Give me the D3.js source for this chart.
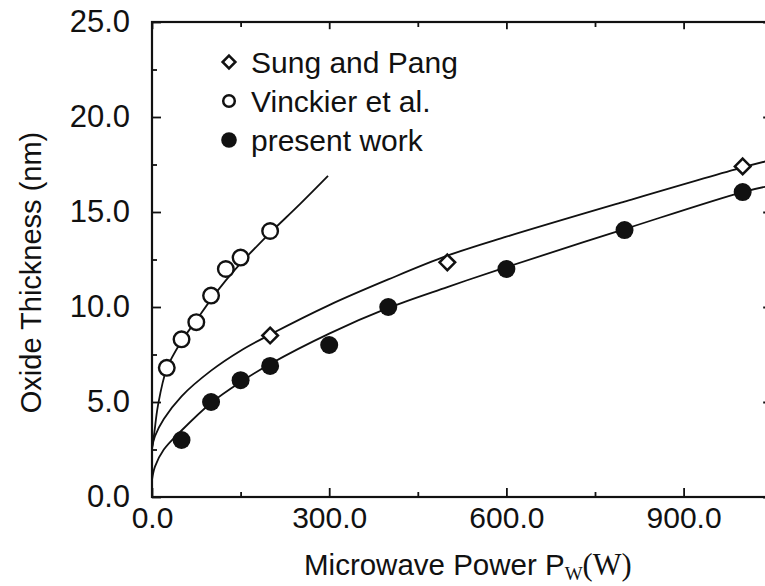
<!DOCTYPE html>
<html>
<head>
<meta charset="utf-8">
<script src="https://cdn.jsdelivr.net/npm/d3@7"></script>
<style>
  html, body { margin: 0; padding: 0; background: #fff; overflow: hidden; }
  svg { display: block; }
  text { font-family: "Liberation Sans", Arial, Helvetica, sans-serif; fill: #111; }
</style>
</head>
<body>
<svg id="chart" width="765" height="586"></svg>
<script>
// ---- data ----
const xMajorTicks = [0, 300, 600, 900];
const xMinorTicks = [150, 450, 750, 1050];
const yMajorTicks = [0, 5, 10, 15, 20, 25];
const yMinorTicks = [2.5, 7.5, 12.5, 17.5, 22.5];

const sungX = [200, 500, 1000];
const sungY = [8.5, 12.35, 17.4];

const vinckierX = [25, 50, 75, 100, 125, 150, 200];
const vinckierY = [6.8, 8.3, 9.2, 10.6, 12.0, 12.6, 14.0];

const presentX = [50, 100, 150, 200, 300, 400, 600, 800, 1000];
const presentY = [3.0, 5.0, 6.15, 6.9, 8.0, 10.0, 12.0, 14.05, 16.05];

// fitted curves
const vinckierFitX = [0, 4, 10, 25, 50, 75, 100, 125, 150, 200, 250, 298];
const vinckierFitY = [2.5, 3.4, 4.8, 6.75, 8.2, 9.3, 10.4, 11.4, 12.3, 13.9, 15.4, 16.9];

const sungFitX = [0, 5, 20, 50, 100, 150, 200, 300, 400, 500, 600, 800, 1000, 1050];
const sungFitY = [2.6, 3.2, 4.1, 5.3, 6.65, 7.7, 8.55, 10.1, 11.45, 12.7, 13.7, 15.55, 17.35, 17.75];

const presentFitX = [0, 5, 20, 50, 100, 150, 200, 300, 400, 500, 600, 800, 1000, 1050];
const presentFitY = [0.9, 1.6, 2.5, 3.5, 4.95, 6.05, 7.0, 8.6, 9.95, 11.05, 12.1, 14.1, 16.05, 16.4];

const legendLabels = ["Sung and Pang", "Vinckier et al.", "present work"];

(function () {
// ---- layout ----
const svg = d3.select("#chart");
const mLeft = 152, mTop = 22, mBottom = 497;
const pxPer300 = 177.2;
const mRight = mLeft + 1050 / 300 * pxPer300;

const x = d3.scaleLinear().domain([0, 1050]).range([mLeft, mRight]);
const y = d3.scaleLinear().domain([0, 25]).range([mBottom, mTop]);

const majorLen = 9, minorLen = 5;
const fmt = d3.format(".1f");

function clean(g) { g.select(".domain").remove(); g.selectAll("line").attr("stroke", "#111").attr("stroke-width", 1.8); }

// bottom axis (ticks inward)
svg.append("g").attr("transform", `translate(0,${mBottom})`)
  .call(d3.axisBottom(x).tickValues(xMajorTicks).tickSize(-majorLen).tickPadding(12).tickFormat(fmt))
  .call(clean)
  .selectAll("text").attr("font-size", 30).attr("dy", "0.71em").attr("y", 10);
svg.append("g").attr("transform", `translate(0,${mBottom})`)
  .call(d3.axisBottom(x).tickValues(xMinorTicks).tickSize(-minorLen).tickFormat(""))
  .call(clean);
// top axis
svg.append("g").attr("transform", `translate(0,${mTop})`)
  .call(d3.axisTop(x).tickValues(xMajorTicks).tickSize(-majorLen * 0.8).tickFormat(""))
  .call(clean);
svg.append("g").attr("transform", `translate(0,${mTop})`)
  .call(d3.axisTop(x).tickValues(xMinorTicks).tickSize(-minorLen).tickFormat(""))
  .call(clean);
// left axis
svg.append("g").attr("transform", `translate(${mLeft},0)`)
  .call(d3.axisLeft(y).tickValues(yMajorTicks).tickSize(-majorLen).tickPadding(22).tickFormat(fmt))
  .call(clean)
  .selectAll("text").attr("font-size", 31);
svg.append("g").attr("transform", `translate(${mLeft},0)`)
  .call(d3.axisLeft(y).tickValues(yMinorTicks).tickSize(-minorLen).tickFormat(""))
  .call(clean);
// right axis
svg.append("g").attr("transform", `translate(${mRight},0)`)
  .call(d3.axisRight(y).tickValues(yMajorTicks).tickSize(-majorLen).tickFormat(""))
  .call(clean);
svg.append("g").attr("transform", `translate(${mRight},0)`)
  .call(d3.axisRight(y).tickValues(yMinorTicks).tickSize(-minorLen).tickFormat(""))
  .call(clean);

// frame
svg.append("rect")
  .attr("x", mLeft).attr("y", mTop)
  .attr("width", mRight - mLeft).attr("height", mBottom - mTop)
  .attr("fill", "none").attr("stroke", "#111").attr("stroke-width", 2.2);

// ---- fitted curves ----
const line = d3.line().x(d => x(d[0])).y(d => y(d[1])).curve(d3.curveCatmullRom.alpha(0.5));
const plot = svg.append("g");
[[vinckierFitX, vinckierFitY], [sungFitX, sungFitY], [presentFitX, presentFitY]].forEach(([xs, ys]) => {
  plot.append("path")
    .datum(xs.map((v, i) => [v, ys[i]]))
    .attr("d", line)
    .attr("fill", "none").attr("stroke", "#111").attr("stroke-width", 1.8);
});

// ---- markers ----
function diamond(g, cx, cy, r, sw) {
  g.append("path")
    .attr("d", `M${cx},${cy - r}L${cx + r},${cy}L${cx},${cy + r}L${cx - r},${cy}Z`)
    .attr("fill", "#fff").attr("stroke", "#111").attr("stroke-width", sw);
}
sungX.forEach((v, i) => diamond(plot, x(v), y(sungY[i]), 7.8, 2.5));
plot.selectAll("circle.v").data(vinckierX.map((v, i) => [v, vinckierY[i]])).join("circle")
  .attr("class", "v")
  .attr("cx", d => x(d[0])).attr("cy", d => y(d[1])).attr("r", 7.8)
  .attr("fill", "#fff").attr("stroke", "#111").attr("stroke-width", 2.4);
plot.selectAll("circle.p").data(presentX.map((v, i) => [v, presentY[i]])).join("circle")
  .attr("class", "p")
  .attr("cx", d => x(d[0])).attr("cy", d => y(d[1])).attr("r", 9)
  .attr("fill", "#111");

// ---- legend ----
const lg = svg.append("g");
const lgX = 229, lgY0 = 62, lgDy = 39;
diamond(lg, lgX, lgY0, 6.4, 2.5);
lg.append("circle").attr("cx", lgX).attr("cy", lgY0 + lgDy).attr("r", 5.8)
  .attr("fill", "#fff").attr("stroke", "#111").attr("stroke-width", 2.5);
lg.append("circle").attr("cx", lgX).attr("cy", lgY0 + 2 * lgDy).attr("r", 7.8).attr("fill", "#111");
legendLabels.forEach((t, i) => {
  lg.append("text").attr("x", 251).attr("y", lgY0 + i * lgDy).attr("dy", "0.36em")
    .attr("font-size", 30).text(t);
});

// ---- axis titles ----
const xt = svg.append("text").attr("x", 304).attr("y", 575).attr("font-size", 29.5);
xt.append("tspan").text("Microwave Power P");
xt.append("tspan").attr("font-family", "Liberation Serif, Times New Roman, serif").attr("font-size", 19).attr("dy", 5).text("W");
xt.append("tspan").attr("font-family", "Liberation Serif, Times New Roman, serif").attr("font-size", 30.5).attr("dy", -5).text("(W)");

svg.append("text")
  .attr("transform", `translate(41,${(mTop + mBottom) / 2 + 13}) rotate(-90)`)
  .attr("text-anchor", "middle").attr("font-size", 29)
  .text("Oxide Thickness (nm)");
})();
</script>
</body>
</html>
